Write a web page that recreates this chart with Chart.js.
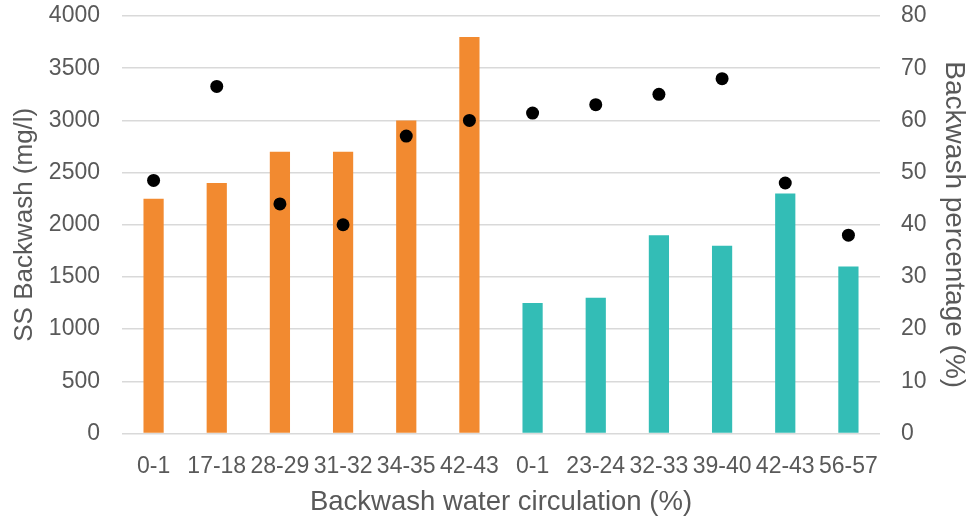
<!DOCTYPE html>
<html>
<head>
<meta charset="utf-8">
<script src="https://cdn.jsdelivr.net/npm/chart.js@4/dist/chart.umd.min.js"></script>
<style>
  html, body { margin: 0; padding: 0; background: #fff; }
  #wrap { width: 966px; height: 516px; }
</style>
</head>
<body>
<div id="wrap"><canvas id="myChart"></canvas></div>
<script>
// data
const categories = ["0-1", "17-18", "28-29", "31-32", "34-35", "42-43", "0-1", "23-24", "32-33", "39-40", "42-43", "56-57"];
const ssBackwash = [2250, 2400, 2700, 2700, 3000, 3800, 1250, 1300, 1900, 1800, 2300, 1600];
const backwashPct = [48.5, 66.5, 44, 40, 57, 60, 61.4, 63, 65, 68, 48, 38];
const barColors = ["#f28a30", "#f28a30", "#f28a30", "#f28a30", "#f28a30", "#f28a30",
  "#33bdb6", "#33bdb6", "#33bdb6", "#33bdb6", "#33bdb6", "#33bdb6"];
const leftTicks = [0, 500, 1000, 1500, 2000, 2500, 3000, 3500, 4000];
const rightTicks = [0, 10, 20, 30, 40, 50, 60, 70, 80];

const textColor = "#595959";
const gridColor = "#d9d9d9";
const family = "'Liberation Sans', Arial, sans-serif";
const tickFont = { family: family, size: 23 };

// keep the chart area where the picture has it
function noPadding(scale) {
  scale.paddingTop = 0;
  scale.paddingBottom = 0;
  scale.paddingLeft = 0;
  scale.paddingRight = 0;
}

const ctx = document.getElementById("myChart");
const chart = new Chart(ctx, {
  type: "bar",
  data: {
    labels: categories,
    datasets: [
      {
        type: "line",
        data: backwashPct,
        yAxisID: "y1",
        showLine: false,
        pointRadius: 6.5,
        pointHoverRadius: 6.5,
        pointBackgroundColor: "#000",
        pointBorderWidth: 0,
        order: 0,
      },
      {
        data: ssBackwash,
        yAxisID: "y",
        backgroundColor: barColors,
        barPercentage: 0.32,
        categoryPercentage: 1,
        order: 1,
      },
    ],
  },
  options: {
    responsive: true,
    maintainAspectRatio: false,
    animation: false,
    layout: { padding: { top: 16, left: 0, right: 0, bottom: 0 } },
    plugins: {
      legend: { display: false },
      tooltip: { enabled: false },
    },
    scales: {
      x: {
        grid: { display: false },
        border: { display: false },
        ticks: { color: textColor, font: tickFont, maxRotation: 0, autoSkip: false, padding: 11 },
        title: {
          display: true,
          text: "Backwash water circulation (%)",
          color: textColor,
          font: { family: family, size: 27.5 },
          padding: { top: 0, bottom: -3 },
        },
        afterFit: (scale) => { scale.height = 82.5; noPadding(scale); },
      },
      y: {
        position: "left",
        min: 0,
        max: 4000,
        afterBuildTicks: (scale) => { scale.ticks = leftTicks.map((v) => ({ value: v })); },
        grid: { color: gridColor, lineWidth: 1.5, drawTicks: false },
        border: { display: false },
        ticks: { color: textColor, font: tickFont, padding: 22, callback: (v) => String(v) },
        title: {
          display: true,
          text: "SS Backwash (mg/l)",
          color: textColor,
          font: { family: family, size: 26 },
          padding: { top: 9, bottom: 0 },
        },
        afterFit: (scale) => { scale.width = 122; noPadding(scale); },
      },
      y1: {
        position: "right",
        min: 0,
        max: 80,
        afterBuildTicks: (scale) => { scale.ticks = rightTicks.map((v) => ({ value: v })); },
        grid: { display: false },
        border: { display: false },
        ticks: { color: textColor, font: tickFont, padding: 13, callback: (v) => String(v) },
        title: {
          display: true,
          text: "Backwash percentage (%)",
          color: textColor,
          font: { family: family, size: 28, lineHeight: 1 },
          padding: { top: -2, bottom: 0 },
        },
        afterFit: (scale) => { scale.width = 86; noPadding(scale); },
      },
    },
  },
});
</script>
</body>
</html>
